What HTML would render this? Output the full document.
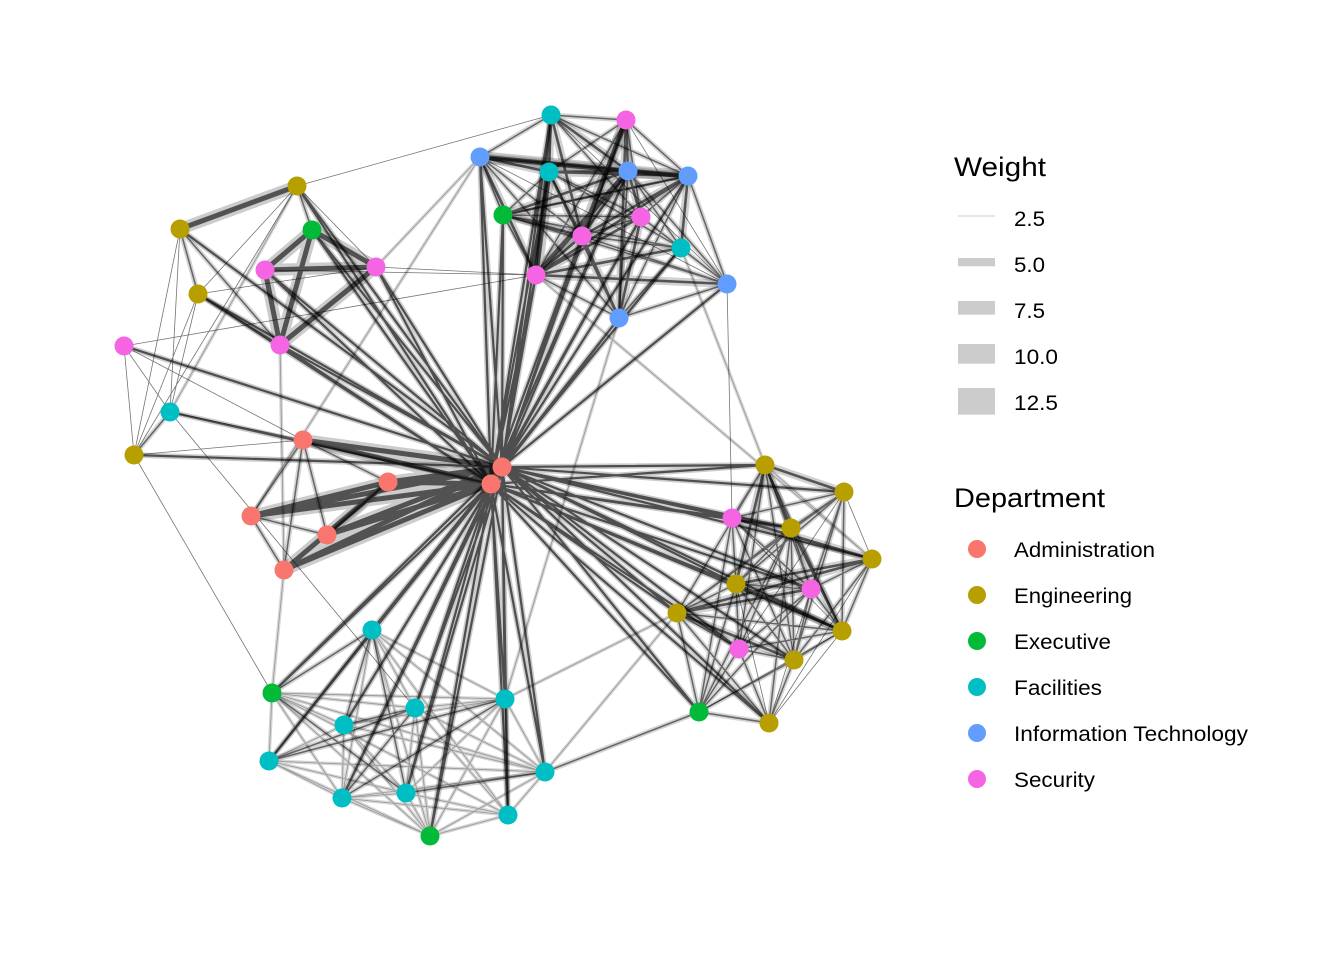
<!DOCTYPE html>
<html><head><meta charset="utf-8"><style>
html,body{margin:0;padding:0;background:#fff;}
svg{display:block;}
text{font-family:"Liberation Sans",Arial,sans-serif;fill:#000;}
</style></head><body>
<svg width="1344" height="960" viewBox="0 0 1344 960" xmlns="http://www.w3.org/2000/svg">
<rect width="1344" height="960" fill="#fff"/>
<defs>
<path id="hub" d="M502 467L551 115M502 467L626 120M502 467L480 157M502 467L549 172M502 467L628 171M502 467L688 176M502 467L503 215M502 467L641 217M502 467L582 236M502 467L681 248M502 467L536 275M502 467L727 284M502 467L619 318M491 484L480 157M491 484L549 172M491 484L503 215M491 484L582 236M491 484L536 275M491 484L619 318M491 484L628 171M491 484L551 115M491 484L641 217M502 467L297 186M502 467L312 230M502 467L265 270M502 467L376 267M502 467L280 345M502 467L124 346M502 467L180 229M502 467L198 294M502 467L134 455M491 484L297 186M491 484L265 270M491 484L376 267M491 484L280 345M491 484L312 230M491 484L170 412M491 484L198 294M502 467L765 465M502 467L844 492M502 467L732 518M502 467L791 528M502 467L872 559M502 467L736 584M502 467L811 589M502 467L677 613M502 467L842 631M502 467L739 649M502 467L794 660M502 467L699 712M502 467L769 723M491 484L765 465M491 484L732 518M491 484L791 528M491 484L736 584M491 484L677 613M491 484L739 649M491 484L699 712M491 484L769 723M491 484L811 589M491 484L842 631M502 467L372 630M502 467L272 693M502 467L415 708M502 467L505 699M502 467L344 725M502 467L269 761M502 467L342 798M502 467L406 793M502 467L545 772M502 467L508 815M502 467L430 836M491 484L372 630M491 484L272 693M491 484L415 708M491 484L505 699M491 484L344 725M491 484L269 761M491 484L342 798M491 484L406 793M491 484L545 772M491 484L508 815M491 484L430 836"/>
<path id="vheavy" d="M303 440L502 467M303 440L491 484M388 482L502 467M388 482L491 484M251 516L502 467M251 516L491 484M327 535L502 467M327 535L491 484M284 570L502 467M284 570L491 484M251 516L388 482M284 570L388 482
M312 230L265 270M312 230L376 267M312 230L280 345M265 270L376 267M265 270L280 345M376 267L280 345M297 186L180 229
M628 171L688 176M480 157L628 171M626 120L582 236M549 172L536 275M628 171L536 275"/>
<path id="heavy" d="M327 535L388 482
M551 115L549 172M551 115L582 236M551 115L628 171M626 120L628 171M626 120L619 318M480 157L688 176M549 172L628 171M628 171L641 217M628 171L582 236M688 176L582 236M688 176L681 248M503 215L628 171M503 215L688 176M582 236L536 275M688 176L536 275M681 248L536 275M641 217L536 275M536 275L727 284M549 172L619 318M480 157L536 275M503 215L582 236M480 157L549 172M549 172L688 176M641 217L619 318M582 236L619 318
M765 465L844 492M732 518L872 559M677 613L872 559M736 584L872 559M677 613L794 660M736 584L842 631M765 465L791 528M791 528L842 631M677 613L811 589M765 465L736 584"/>
<path id="med" d="M303 440L251 516M303 440L284 570M303 440L327 535M251 516L327 535M251 516L284 570M303 440L388 482
M551 115L626 120M551 115L480 157M551 115L688 176M551 115L641 217M551 115L536 275M626 120L549 172M626 120L688 176M626 120L641 217M626 120L536 275M480 157L503 215M480 157L582 236M480 157L619 318M549 172L503 215M549 172L641 217M549 172L582 236M549 172L681 248M628 171L681 248M628 171L727 284M628 171L619 318M688 176L641 217M688 176L727 284M688 176L619 318M503 215L641 217M503 215L681 248M503 215L536 275M503 215L727 284M641 217L582 236M641 217L681 248M641 217L727 284M582 236L681 248M582 236L727 284M681 248L727 284M681 248L619 318M536 275L619 318M727 284L619 318
M180 229L198 294M180 229L280 345M198 294L280 345M170 412L134 455M312 230L297 186
M765 465L732 518M765 465L811 589M765 465L677 613M765 465L842 631M765 465L739 649M765 465L794 660M844 492L732 518M844 492L791 528M844 492L736 584M844 492L811 589M844 492L677 613M844 492L842 631M844 492L794 660M732 518L791 528M732 518L736 584M732 518L811 589M732 518L794 660M732 518L699 712M791 528L736 584M791 528L811 589M791 528L677 613M791 528L739 649M791 528L794 660M791 528L699 712M791 528L769 723M872 559L811 589M872 559L842 631M872 559L794 660M736 584L811 589M736 584L677 613M736 584L739 649M736 584L794 660M736 584L699 712M811 589L842 631M811 589L739 649M811 589L794 660M811 589L699 712M677 613L842 631M677 613L739 649M677 613L699 712M677 613L769 723M842 631L739 649M842 631L794 660M739 649L794 660M739 649L699 712M739 649L769 723M794 660L699 712M794 660L769 723M699 712L769 723
M372 630L272 693M372 630L344 725M372 630L406 793M272 693L406 793M269 761L415 708M269 761L505 699M342 798L505 699M342 798L415 708M406 793L545 772M505 699L508 815M344 725L415 708
M699 712L545 772"/>
<path id="light" d="M372 630L415 708M372 630L505 699M372 630L269 761M372 630L342 798M372 630L545 772M372 630L508 815M372 630L430 836M272 693L415 708M272 693L505 699M272 693L344 725M272 693L269 761M272 693L342 798M272 693L545 772M272 693L508 815M272 693L430 836M415 708L505 699M415 708L406 793M415 708L545 772M415 708L508 815M415 708L430 836M505 699L344 725M505 699L406 793M505 699L545 772M505 699L430 836M344 725L269 761M344 725L342 798M344 725L406 793M344 725L545 772M344 725L430 836M269 761L342 798M269 761L406 793M269 761L545 772M269 761L430 836M342 798L406 793M342 798L545 772M342 798L508 815M342 798L430 836M406 793L508 815M406 793L430 836M545 772L508 815M545 772L430 836M508 815L430 836
M681 248L765 465M619 318L505 699M280 345L284 570M284 570L272 693M480 157L251 516M297 186L170 412M376 267L480 157M677 613L505 699M677 613L545 772M536 275L872 559M765 465L872 559"/>
<path id="thin" d="M551 115L727 284M626 120L727 284M480 157L727 284M688 176L503 215
M297 186L551 115M376 267L536 275M265 270L536 275M124 346L536 275M134 455L272 693M170 412L415 708M727 284L732 518M134 455L303 440M170 412L303 440M124 346L303 440
M180 229L170 412M180 229L134 455M198 294L170 412M198 294L134 455M297 186L134 455M124 346L134 455M297 186L198 294M124 346L170 412M297 186L376 267M198 294L376 267
M844 492L872 559M732 518L842 631M872 559L769 723M842 631L699 712M842 631L769 723M811 589L769 723M736 584L769 723M844 492L739 649"/>
</defs>
<g fill="none" stroke-linecap="butt">
<use href="#light" stroke="#000" stroke-opacity="0.16" stroke-width="3.5"/>
<use href="#light" stroke="#000" stroke-opacity="0.3" stroke-width="0.8"/>
<use href="#vheavy" stroke="#000" stroke-opacity="0.2" stroke-width="12"/>
<use href="#heavy" stroke="#000" stroke-opacity="0.18" stroke-width="8"/>
<use href="#med" stroke="#000" stroke-opacity="0.17" stroke-width="5"/>
<use href="#hub" stroke="#000" stroke-opacity="0.2" stroke-width="5.5"/>
<use href="#vheavy" stroke="#000" stroke-opacity="0.6" stroke-width="5"/>
<use href="#heavy" stroke="#000" stroke-opacity="0.6" stroke-width="2.6"/>
<use href="#med" stroke="#000" stroke-opacity="0.52" stroke-width="1.5"/>
<use href="#hub" stroke="#000" stroke-opacity="0.62" stroke-width="2.2"/>
<use href="#thin" stroke="#000" stroke-opacity="0.55" stroke-width="0.8"/>
</g>
<g stroke="none">
<circle cx="551" cy="115" r="9.5" fill="#00BFC4"/>
<circle cx="626" cy="120" r="9.5" fill="#F564E3"/>
<circle cx="480" cy="157" r="9.5" fill="#619CFF"/>
<circle cx="549" cy="172" r="9.5" fill="#00BFC4"/>
<circle cx="628" cy="171" r="9.5" fill="#619CFF"/>
<circle cx="688" cy="176" r="9.5" fill="#619CFF"/>
<circle cx="503" cy="215" r="9.5" fill="#00BA38"/>
<circle cx="641" cy="217" r="9.5" fill="#F564E3"/>
<circle cx="582" cy="236" r="9.5" fill="#F564E3"/>
<circle cx="681" cy="248" r="9.5" fill="#00BFC4"/>
<circle cx="536" cy="275" r="9.5" fill="#F564E3"/>
<circle cx="727" cy="284" r="9.5" fill="#619CFF"/>
<circle cx="619" cy="318" r="9.5" fill="#619CFF"/>
<circle cx="297" cy="186" r="9.5" fill="#B79F00"/>
<circle cx="180" cy="229" r="9.5" fill="#B79F00"/>
<circle cx="312" cy="230" r="9.5" fill="#00BA38"/>
<circle cx="265" cy="270" r="9.5" fill="#F564E3"/>
<circle cx="376" cy="267" r="9.5" fill="#F564E3"/>
<circle cx="198" cy="294" r="9.5" fill="#B79F00"/>
<circle cx="280" cy="345" r="9.5" fill="#F564E3"/>
<circle cx="124" cy="346" r="9.5" fill="#F564E3"/>
<circle cx="170" cy="412" r="9.5" fill="#00BFC4"/>
<circle cx="134" cy="455" r="9.5" fill="#B79F00"/>
<circle cx="303" cy="440" r="9.5" fill="#F8766D"/>
<circle cx="388" cy="482" r="9.5" fill="#F8766D"/>
<circle cx="251" cy="516" r="9.5" fill="#F8766D"/>
<circle cx="327" cy="535" r="9.5" fill="#F8766D"/>
<circle cx="284" cy="570" r="9.5" fill="#F8766D"/>
<circle cx="502" cy="467" r="9.5" fill="#F8766D"/>
<circle cx="491" cy="484" r="9.5" fill="#F8766D"/>
<circle cx="765" cy="465" r="9.5" fill="#B79F00"/>
<circle cx="844" cy="492" r="9.5" fill="#B79F00"/>
<circle cx="732" cy="518" r="9.5" fill="#F564E3"/>
<circle cx="791" cy="528" r="9.5" fill="#B79F00"/>
<circle cx="872" cy="559" r="9.5" fill="#B79F00"/>
<circle cx="736" cy="584" r="9.5" fill="#B79F00"/>
<circle cx="811" cy="589" r="9.5" fill="#F564E3"/>
<circle cx="677" cy="613" r="9.5" fill="#B79F00"/>
<circle cx="842" cy="631" r="9.5" fill="#B79F00"/>
<circle cx="739" cy="649" r="9.5" fill="#F564E3"/>
<circle cx="794" cy="660" r="9.5" fill="#B79F00"/>
<circle cx="699" cy="712" r="9.5" fill="#00BA38"/>
<circle cx="769" cy="723" r="9.5" fill="#B79F00"/>
<circle cx="372" cy="630" r="9.5" fill="#00BFC4"/>
<circle cx="272" cy="693" r="9.5" fill="#00BA38"/>
<circle cx="415" cy="708" r="9.5" fill="#00BFC4"/>
<circle cx="505" cy="699" r="9.5" fill="#00BFC4"/>
<circle cx="344" cy="725" r="9.5" fill="#00BFC4"/>
<circle cx="269" cy="761" r="9.5" fill="#00BFC4"/>
<circle cx="342" cy="798" r="9.5" fill="#00BFC4"/>
<circle cx="406" cy="793" r="9.5" fill="#00BFC4"/>
<circle cx="545" cy="772" r="9.5" fill="#00BFC4"/>
<circle cx="508" cy="815" r="9.5" fill="#00BFC4"/>
<circle cx="430" cy="836" r="9.5" fill="#00BA38"/>
</g>
<text x="954" y="176" font-size="26.5" textLength="92" lengthAdjust="spacingAndGlyphs">Weight</text>
<rect x="958" y="215.5" width="37" height="1" fill="#cccccc"/>
<rect x="958" y="258" width="37" height="8.3" fill="#cccccc"/>
<rect x="958" y="301" width="37" height="13.7" fill="#cccccc"/>
<rect x="958" y="344" width="37" height="19.7" fill="#cccccc"/>
<rect x="958" y="388" width="37" height="26.7" fill="#cccccc"/>
<g font-size="21.5">
<text x="1014" y="226" textLength="31" lengthAdjust="spacingAndGlyphs">2.5</text>
<text x="1014" y="272" textLength="31" lengthAdjust="spacingAndGlyphs">5.0</text>
<text x="1014" y="318" textLength="31" lengthAdjust="spacingAndGlyphs">7.5</text>
<text x="1014" y="364" textLength="44" lengthAdjust="spacingAndGlyphs">10.0</text>
<text x="1014" y="410" textLength="44" lengthAdjust="spacingAndGlyphs">12.5</text>
</g>
<text x="954" y="507" font-size="26.5" textLength="151" lengthAdjust="spacingAndGlyphs">Department</text>
<circle cx="977" cy="549" r="9" fill="#F8766D"/>
<circle cx="977" cy="595" r="9" fill="#B79F00"/>
<circle cx="977" cy="641" r="9" fill="#00BA38"/>
<circle cx="977" cy="687" r="9" fill="#00BFC4"/>
<circle cx="977" cy="733" r="9" fill="#619CFF"/>
<circle cx="977" cy="779" r="9" fill="#F564E3"/>
<g font-size="21.5">
<text x="1014" y="557" textLength="141" lengthAdjust="spacingAndGlyphs">Administration</text>
<text x="1014" y="603" textLength="118" lengthAdjust="spacingAndGlyphs">Engineering</text>
<text x="1014" y="649" textLength="97" lengthAdjust="spacingAndGlyphs">Executive</text>
<text x="1014" y="695" textLength="88" lengthAdjust="spacingAndGlyphs">Facilities</text>
<text x="1014" y="741" textLength="234" lengthAdjust="spacingAndGlyphs">Information Technology</text>
<text x="1014" y="787" textLength="81" lengthAdjust="spacingAndGlyphs">Security</text>
</g>
</svg>
</body></html>
